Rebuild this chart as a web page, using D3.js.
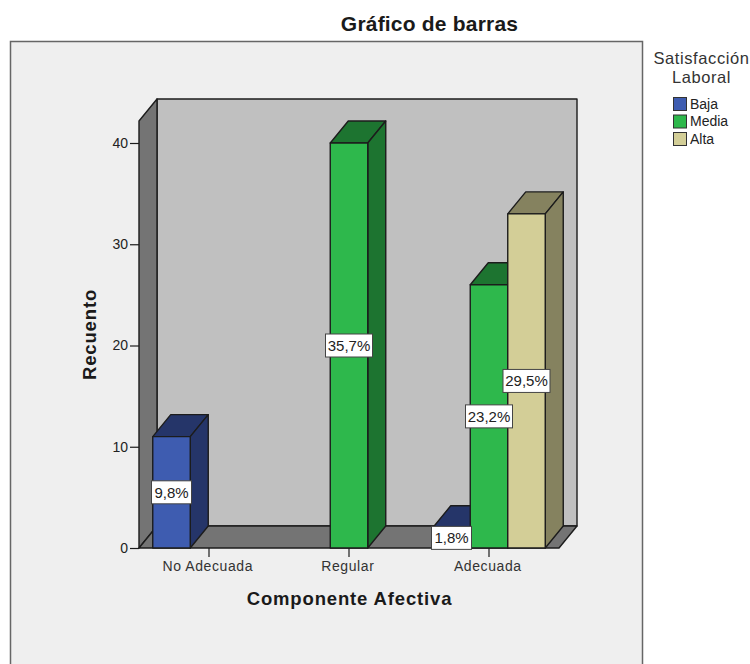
<!DOCTYPE html>
<html><head><meta charset="utf-8">
<script src="https://cdnjs.cloudflare.com/ajax/libs/d3/7.8.5/d3.min.js"></script>
<style>html,body{margin:0;padding:0;background:#fff}svg{display:block}text{font-family:"Liberation Sans",Arial,sans-serif}</style>
</head><body><svg id="c" width="750" height="664"></svg>
<script>
const categories = ["No Adecuada", "Regular", "Adecuada"];
const seriesNames = ["Baja", "Media", "Alta"];
const yTicks = [0, 10, 20, 30, 40];
const bajaValues = [11, 0, 2];
const mediaValues = [0, 40, 26];
const altaValues = [0, 0, 33];
const bajaLabels = ["9,8%", "", "1,8%"];
const mediaLabels = ["", "35,7%", "23,2%"];
const altaLabels = ["", "", "29,5%"];
const faceColors = ["#3e5cb0", "#2eb84c", "#d3ce97"];
const topColors = ["#253569", "#1d7430", "#85825f"];

const svg = d3.select("#c");
const dx = 18, dy = -22;
const x = d3.scaleBand().domain(categories).range([139, 559]);
const inner = d3.scaleBand().domain(seriesNames).range([0, 112.5]);
const y = d3.scaleLinear().domain([0, 40]).range([548, 143]);
const ink = "#1c1c1c";
const poly = (pts, fill, sw = 1.4) => svg.append("path")
  .attr("d", d3.line()(pts) + "Z").attr("fill", fill)
  .attr("stroke", ink).attr("stroke-width", sw).attr("stroke-linejoin", "round");

svg.append("rect").attr("x", 10.5).attr("y", 41.5).attr("width", 632).attr("height", 640)
  .attr("fill", "#efefef").attr("stroke", "#666").attr("stroke-width", 1.5);

svg.append("text").attr("x", 429.5).attr("y", 30.5).attr("text-anchor", "middle")
  .attr("font-size", 21).attr("font-weight", "bold").attr("letter-spacing", 0.2).attr("fill", "#1a1a1a").text("Gráfico de barras");

// chart box
const x0 = x.range()[0], x1 = x.range()[1], y0 = y(0), yTop = 121;
poly([[x0 + dx, yTop + dy], [x1 + dx, yTop + dy], [x1 + dx, y0 + dy], [x0 + dx, y0 + dy]], "#c0c0c0");
poly([[x0, yTop], [x0 + dx, yTop + dy], [x0 + dx, y0 + dy], [x0, y0]], "#747474");
poly([[x0, y0], [x0 + dx, y0 + dy], [x1 + dx, y0 + dy], [x1, y0]], "#747474");

// axes
const yAxis = d3.axisLeft(y).tickValues(yTicks).tickSize(9).tickPadding(2);
const yG = svg.append("g").attr("transform", `translate(${x0},0)`).call(yAxis);
yG.select(".domain").remove();
yG.selectAll("line").attr("stroke", ink).attr("stroke-width", 1.2);
yG.selectAll("text").attr("font-size", 14).attr("fill", "#222").style("font-family", '"Liberation Sans",Arial,sans-serif');

const xAxis = d3.axisBottom(x).tickSize(9).tickPadding(4);
const xG = svg.append("g").attr("transform", `translate(0,${y0})`).call(xAxis);
xG.select(".domain").remove();
xG.selectAll("line").attr("stroke", ink).attr("stroke-width", 1.2);
xG.selectAll("text").attr("font-size", 14).attr("fill", "#333").attr("dx", -1.2).style("font-family", '"Liberation Sans",Arial,sans-serif').attr("letter-spacing", 0.6);

// bars
const rows = seriesNames.map((s, i) => ({ s, i, values: [bajaValues, mediaValues, altaValues][i], labels: [bajaLabels, mediaLabels, altaLabels][i] }));
const band = inner.bandwidth();
const barLeft = (c, s) => x(c) + x.bandwidth() / 2 - 56.25 + inner(s);
categories.forEach((c, ci) => rows.forEach(r => {
  const v = r.values[ci];
  if (!v) return;
  const l = barLeft(c, r.s), t = y(v), b = y(0), w = band;
  poly([[l, t], [l + dx, t + dy], [l + w + dx, t + dy], [l + w, t]], topColors[r.i]);
  poly([[l + w, t], [l + w + dx, t + dy], [l + w + dx, b + dy], [l + w, b]], topColors[r.i]);
  poly([[l, t], [l + w, t], [l + w, b], [l, b]], faceColors[r.i]);
}));
categories.forEach((c, ci) => rows.forEach(r => {
  const v = r.values[ci];
  if (!v) return;
  const cx = barLeft(c, r.s) + band / 2, cy = y(v / 2);
  const bw = r.labels[ci].length > 4 ? 47 : 40;
  svg.append("rect").attr("x", cx - bw / 2).attr("y", cy - 11.5).attr("width", bw).attr("height", 23)
    .attr("fill", "#fff").attr("stroke", "#444").attr("stroke-width", 1);
  svg.append("text").attr("x", cx).attr("y", cy + 5.5).attr("text-anchor", "middle")
    .attr("font-size", 15).attr("fill", "#222").text(r.labels[ci]);
}));

// axis titles
svg.append("text").attr("x", 349.5).attr("y", 605).attr("text-anchor", "middle")
  .attr("font-size", 18.5).attr("font-weight", "bold").attr("letter-spacing", 0.85).attr("fill", "#1a1a1a").text("Componente Afectiva");
svg.append("text").attr("transform", "translate(96,334.5) rotate(-90)").attr("text-anchor", "middle")
  .attr("font-size", 18.5).attr("font-weight", "bold").attr("letter-spacing", 0.85).attr("fill", "#1a1a1a").text("Recuento");

// legend
["Satisfacción", "Laboral"].forEach((t, i) => svg.append("text").attr("x", 701.5).attr("y", 64 + i * 19)
  .attr("text-anchor", "middle").attr("font-size", 16.5).attr("letter-spacing", 0.6).attr("fill", "#333").text(t));
seriesNames.forEach((s, i) => {
  const ly = 97.5 + i * 17.5;
  svg.append("rect").attr("x", 673.5).attr("y", ly).attr("width", 13).attr("height", 13)
    .attr("fill", faceColors[i]).attr("stroke", "#333").attr("stroke-width", 1);
  svg.append("text").attr("x", 690).attr("y", ly + 11).attr("font-size", 14).attr("fill", "#222").text(s);
});
</script></body></html>
